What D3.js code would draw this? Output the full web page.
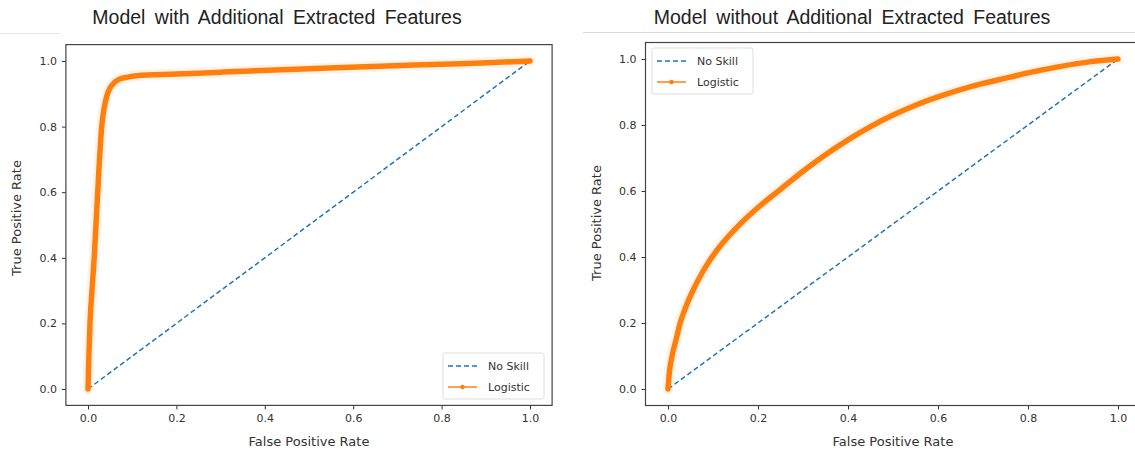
<!DOCTYPE html>
<html>
<head>
<meta charset="utf-8">
<script src="https://cdn.jsdelivr.net/npm/d3@7"></script>
<style>
  body { margin: 0; background: #fff; }
  svg { display: block; }
  .tick text { font-family: "DejaVu Sans", sans-serif; font-size: 11px; fill: #333; }
  .axis-label { font-family: "DejaVu Sans", sans-serif; font-size: 13px; fill: #333; }
  .title { font-family: "Liberation Sans", Arial, sans-serif; font-size: 19.5px; fill: #222; word-spacing: 4px; }
  .legend text { font-family: "DejaVu Sans", sans-serif; font-size: 11px; fill: #333; }
</style>
</head>
<body>
<div id="chart"></div>
<script>
// ROC points: [false positive rate, true positive rate]
const rocWith = [
  [0, 0], [0.002, 0.1], [0.0045, 0.2], [0.009, 0.3], [0.014, 0.4], [0.018, 0.5],
  [0.022, 0.6], [0.026, 0.7], [0.031, 0.8], [0.037, 0.86], [0.044, 0.9], [0.05, 0.918],
  [0.06, 0.935], [0.07, 0.944], [0.09, 0.951], [0.11, 0.955], [0.2, 0.96],
  [0.3, 0.966], [0.39, 0.971], [0.5, 0.976], [0.66, 0.984], [0.8, 0.99],
  [0.89, 0.994], [1, 1]
];
const rocWithout = [
  [0, 0], [0.003, 0.05], [0.009, 0.1], [0.018, 0.15], [0.027, 0.2], [0.04, 0.25],
  [0.056, 0.3], [0.075, 0.35], [0.093, 0.39], [0.12, 0.44], [0.153, 0.49],
  [0.2, 0.55], [0.25, 0.605], [0.3, 0.66], [0.35, 0.71], [0.4, 0.755], [0.45, 0.795],
  [0.5, 0.83], [0.55, 0.86], [0.6, 0.885], [0.65, 0.907], [0.7, 0.926], [0.76, 0.945],
  [0.8, 0.958], [0.87, 0.977], [0.94, 0.992], [1, 1]
];
const noSkill = [[0, 0], [1, 1]];
const tickValues = [0, 0.2, 0.4, 0.6, 0.8, 1.0];
const seriesNames = ['No Skill', 'Logistic'];
const titles = ['Model with Additional Extracted Features', 'Model without Additional Extracted Features'];

const W = 1135;
const H = 450;
const blue = '#1f77b4';
const orange = '#ff7f0e';

const svg = d3.select('#chart')
  .append('svg')
  .attr('width', W)
  .attr('height', H);

// faint screenshot edges near the top
svg.append('line').attr('x1', 0).attr('x2', 60).attr('y1', 33.5).attr('y2', 33.5)
  .attr('stroke', '#e6e6e6');
svg.append('line').attr('x1', 583).attr('x2', W).attr('y1', 32.5).attr('y2', 32.5)
  .attr('stroke', '#d8d8d8');

const drawPanel = (cfg) => {
  const x = d3.scaleLinear().domain([0, 1]).range([cfg.x0, cfg.x1]);
  const y = d3.scaleLinear().domain([0, 1]).range([cfg.y0, cfg.y1]);
  const left = x(-0.05);
  const right = x(1.05);
  const top = y(1.05);
  const bottom = y(-0.05);

  const g = svg.append('g');

  const clipId = `clip-${cfg.id}`;
  g.append('clipPath').attr('id', clipId)
    .append('rect')
    .attr('x', left).attr('y', top)
    .attr('width', right - left).attr('height', bottom - top);

  const line = d3.line()
    .x((d) => x(d[0]))
    .y((d) => y(d[1]));

  const plot = g.append('g').attr('clip-path', `url(#${clipId})`);

  plot.append('path')
    .datum(noSkill)
    .attr('d', line)
    .attr('fill', 'none')
    .attr('stroke', blue)
    .attr('stroke-width', 1.5)
    .attr('stroke-dasharray', '5,3');

  const curve = line.curve(d3.curveMonotoneX);

  // soft halo the blurry picture shows around the dense marker line
  plot.append('path')
    .datum(cfg.data)
    .attr('d', curve)
    .attr('fill', 'none')
    .attr('stroke', orange)
    .attr('stroke-opacity', 0.1)
    .attr('stroke-width', 11)
    .attr('stroke-linejoin', 'round')
    .attr('stroke-linecap', 'round');

  plot.append('path')
    .datum(cfg.data)
    .attr('d', curve)
    .attr('fill', 'none')
    .attr('stroke', orange)
    .attr('stroke-width', 5.5)
    .attr('stroke-linejoin', 'round')
    .attr('stroke-linecap', 'round');

  // axes
  const xAxis = d3.axisBottom(x).tickValues(tickValues).tickFormat(d3.format('.1f'))
    .tickSize(4).tickPadding(5);
  const yAxis = d3.axisLeft(y).tickValues(tickValues).tickFormat(d3.format('.1f'))
    .tickSize(4).tickPadding(5);

  g.append('g')
    .attr('transform', `translate(0,${bottom})`)
    .call(xAxis)
    .call((a) => a.select('.domain').remove())
    .selectAll('line').attr('stroke', '#333');

  g.append('g')
    .attr('transform', `translate(${left},0)`)
    .call(yAxis)
    .call((a) => a.select('.domain').remove())
    .selectAll('line').attr('stroke', '#333');

  g.append('rect')
    .attr('x', left).attr('y', top)
    .attr('width', right - left).attr('height', bottom - top)
    .attr('fill', 'none')
    .attr('stroke', '#444')
    .attr('stroke-width', 1.2);

  g.append('text')
    .attr('class', 'axis-label')
    .attr('x', (cfg.x0 + cfg.x1) / 2)
    .attr('y', 446)
    .attr('text-anchor', 'middle')
    .text('False Positive Rate');

  g.append('text')
    .attr('class', 'axis-label')
    .attr('transform', `translate(${cfg.ylabX},${cfg.ylabY}) rotate(-90)`)
    .attr('text-anchor', 'middle')
    .text('True Positive Rate');

  g.append('text')
    .attr('class', 'title')
    .attr('x', cfg.titleX)
    .attr('y', 24)
    .attr('text-anchor', 'middle')
    .text(cfg.title);

  // legend
  const lg = g.append('g').attr('class', 'legend')
    .attr('transform', `translate(${cfg.legX},${cfg.legY})`);
  lg.append('rect')
    .attr('width', 101).attr('height', 46).attr('rx', 2)
    .attr('fill', '#fff').attr('fill-opacity', 0.8)
    .attr('stroke', '#ddd');
  seriesNames.forEach((name, i) => {
    const yy = 13 + i * 21;
    lg.append('line')
      .attr('x1', 5).attr('x2', 34).attr('y1', yy).attr('y2', yy)
      .attr('stroke', i === 0 ? blue : orange)
      .attr('stroke-width', 1.5)
      .attr('stroke-dasharray', i === 0 ? '5,3' : null);
    if (i === 1) {
      lg.append('circle').attr('cx', 19.5).attr('cy', yy).attr('r', 2.2).attr('fill', orange);
    }
    lg.append('text')
      .attr('x', 45).attr('y', yy + 4)
      .text(name);
  });
};

drawPanel({
  id: 'a', data: rocWith, title: titles[0],
  x0: 88, x1: 530, y0: 389, y1: 61,
  ylabX: 21, ylabY: 218, titleX: 277,
  legX: 443, legY: 353
});
drawPanel({
  id: 'b', data: rocWithout, title: titles[1],
  x0: 668, x1: 1118, y0: 389, y1: 59,
  ylabX: 601, ylabY: 223, titleX: 852,
  legX: 652, legY: 48
});
</script>
</body>
</html>
